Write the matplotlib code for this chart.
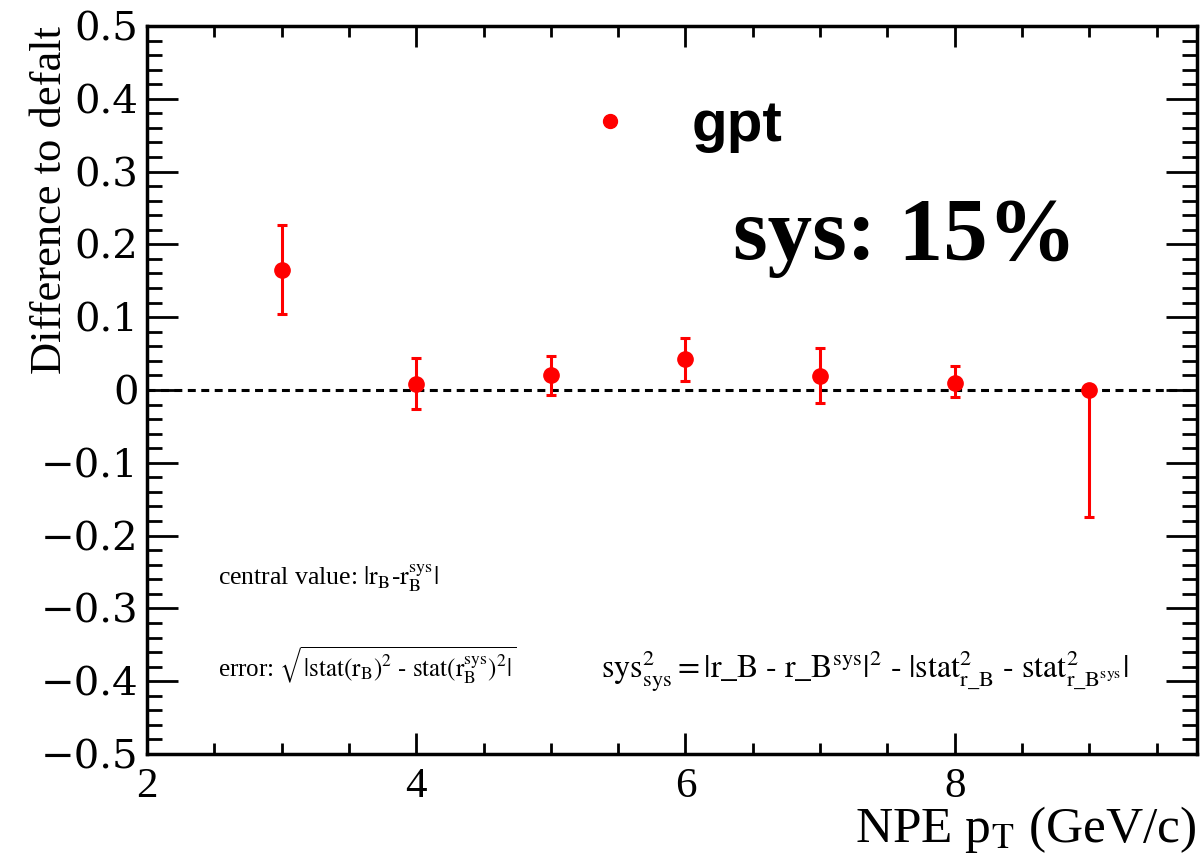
import numpy as np
import matplotlib.pyplot as plt
from matplotlib.lines import Line2D
from matplotlib.ticker import MultipleLocator

plt.rcParams['font.family'] = ['Liberation Serif', 'DejaVu Serif']
plt.rcParams['mathtext.fontset'] = 'stix'

#%% data
pt = [3, 4, 5, 6, 7, 8, 9]
diff = [0.165, 0.008, 0.021, 0.043, 0.019, 0.010, 0.0]
err_lo = [0.060, 0.034, 0.028, 0.030, 0.037, 0.020, 0.174]
err_hi = [0.061, 0.036, 0.026, 0.028, 0.038, 0.023, 0.0]

xticks = [2, 4, 6, 8]
yticks = [-0.5, -0.4, -0.3, -0.2, -0.1, 0, 0.1, 0.2, 0.3, 0.4, 0.5]
ytick_labels = ['\u22120.5', '\u22120.4', '\u22120.3', '\u22120.2', '\u22120.1', '0',
                '0.1', '0.2', '0.3', '0.4', '0.5']

#%% plot
fig = plt.figure(figsize=(12.04, 8.65), dpi=100)
ax = fig.add_axes([0.1221, 0.1283, 0.8721, 0.8417])

ax.axhline(0, color='black', lw=2.2, ls=(0, (2.6, 1.8)), zorder=1)
ax.errorbar(pt, diff, yerr=[err_lo, err_hi], fmt='o', color='red', ms=11,
            elinewidth=2.2, capsize=3.5, capthick=2.2, zorder=3)

ax.set_xlim(2, 9.8)
ax.set_ylim(-0.5, 0.5)
ax.set_xticks(xticks)
ax.set_xticklabels([str(t) for t in xticks], fontsize=31)
ax.set_yticks(yticks)
ax.set_yticklabels(ytick_labels, fontsize=29, family='DejaVu Serif')
ax.xaxis.set_minor_locator(MultipleLocator(0.5))
ax.yaxis.set_minor_locator(MultipleLocator(0.02))
ax.tick_params(which='both', direction='in', top=True, right=True, width=2)
ax.tick_params(axis='y', which='major', length=22, pad=6)
ax.tick_params(axis='y', which='minor', length=11)
ax.tick_params(axis='x', which='major', length=15, pad=10)
ax.tick_params(axis='x', which='minor', length=8)
for s in ax.spines.values():
    s.set_linewidth(2.5)

ax.set_ylabel('Difference to defalt', fontsize=32, loc='top')
ax.yaxis.set_label_coords(-0.073, 1.0)
ax.set_xlabel(r'NPE p$_{\mathrm{T}}$ (GeV/c)', fontsize=37, loc='right', labelpad=-2)

# legend
h = Line2D([], [], marker='o', ls='none', color='red', ms=10)
leg = ax.legend([h], ['gpt'], loc='center', bbox_to_anchor=(0.495, 0.862),
                frameon=False, handletextpad=0.4,
                prop={'family': 'Liberation Sans', 'weight': 'bold', 'size': 42})

ax.text(0.722, 0.71, 'sys: 15%', transform=ax.transAxes, fontsize=64,
        fontweight='bold', ha='center', va='center')

ax.text(0.068, 0.242, r'central value: $\mathrm{|r_B\text{-}r_B^{sys}|}$',
        transform=ax.transAxes, fontsize=18.5, va='center')
ax.text(0.068, 0.122,
        r'error: $\sqrt{\mathrm{|stat(r_B)^2\ \text{-}\ stat(r_B^{sys})^2|}}$',
        transform=ax.transAxes, fontsize=18, va='center')
ax.text(0.684, 0.113,
        r'$\mathrm{sys^2_{sys} = |r\_B\ \text{-}\ r\_B^{sys}|^2\ \text{-}\ |stat^2_{r\_B}\ \text{-}\ stat^2_{r\_B^{sys}}|}$',
        transform=ax.transAxes, fontsize=23, ha='center', va='center')

fig.savefig('out.png', dpi=100)
